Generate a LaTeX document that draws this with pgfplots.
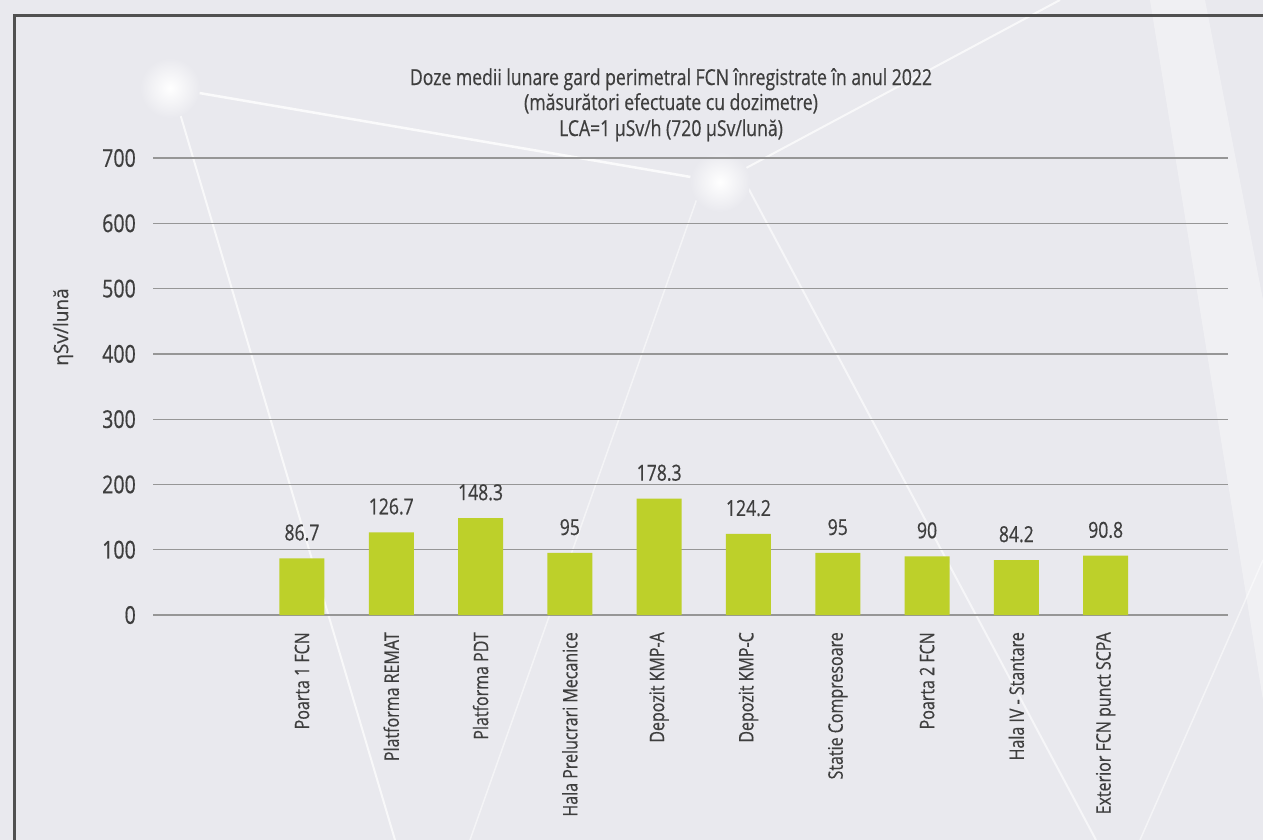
\documentclass[border=0pt]{standalone}
\usepackage{pgfplots}
\pgfplotsset{compat=1.18}
\usepackage{fontspec}
\setmainfont{Open Sans}[FakeStretch=0.8, FakeBold=0.5]
\newfontfamily\ylabfont{Open Sans}[FakeStretch=0.95, FakeBold=0.4]
\definecolor{bgcol}{RGB}{233,233,238}
\definecolor{barcol}{RGB}{189,208,42}
\definecolor{txtcol}{RGB}{62,62,62}
\definecolor{gridcol}{RGB}{150,150,150}
\definecolor{framecol}{RGB}{80,80,80}
\newcommand{\fs}[1]{\fontsize{#1bp}{#1bp}\selectfont}
\begin{document}
\begin{tikzpicture}[x=1bp,y=-1bp]
\path[use as bounding box, fill=bgcol] (0,0) rectangle (1263,840);
\begin{scope}
\clip (0,0) rectangle (1263,840);
% decorative light streaks
\fill[white, opacity=0.35] (1150,0) -- (1205,0) -- (1263,300) -- (1263,700) -- cycle;
\draw[white, line width=2.5bp, opacity=0.8] (170,88) -- (720,182);
\draw[white, line width=2bp, opacity=0.7] (176,100) -- (395,840);
\draw[white, line width=2bp, opacity=0.7] (720,182) -- (1060,0);
\draw[white, line width=2bp, opacity=0.6] (745,182) -- (1096,840);
\draw[white, line width=1.5bp, opacity=0.5] (700,190) -- (470,840);
\draw[white, line width=1.5bp, opacity=0.5] (1263,560) -- (1140,840);
\shade[inner color=white, outer color=bgcol] (170,88) circle (30);
\shade[inner color=white, outer color=bgcol] (720,182) circle (30);
\end{scope}
% frame
\draw[framecol, line width=3bp] (14,840) -- (14,15) -- (1263,15);
% title
\node[anchor=base, text=txtcol, inner sep=0pt, font=\fs{22}] at (671,85) {Doze medii lunare gard perimetral FCN înregistrate în anul 2022};
\node[anchor=base, text=txtcol, inner sep=0pt, font=\fs{22}] at (671,110) {(măsurători efectuate cu dozimetre)};
\node[anchor=base, text=txtcol, inner sep=0pt, font=\fs{22}] at (671,136) {LCA=1 μSv/h (720 μSv/lună)};
% y label
\node[rotate=90, text=txtcol, inner sep=0pt, font={\ylabfont\fs{20}}] at (63,327) {ηSv/lună};
\begin{axis}[
  at={(153bp,-615bp)}, anchor=south west,
  scale only axis, width=1075bp, height=457bp,
  xmin=-1.668, xmax=10.37, ymin=0, ymax=700,
  ytick={0,100,...,700},
  ymajorgrids, grid style={draw=gridcol, line width=1.3bp},
  axis line style={draw=none}, major tick length=0pt, tick style={draw=none},
  /pgf/number format/assume math mode=true,
  xtick={0,...,9},
  xticklabels={Poarta 1 FCN, Platforma REMAT, Platforma PDT, Hala Prelucrari Mecanice, Depozit KMP-A, Depozit KMP-C, Statie Compresoare, Poarta 2 FCN, Hala IV - Stantare, Exterior FCN punct SCPA},
  xticklabel style={rotate=90, anchor=east, inner sep=0pt, font=\fs{20}, text=txtcol},
  xticklabel shift=17bp,
  yticklabel style={anchor=east, inner sep=0pt, font=\fs{24.5}, text=txtcol},
  yticklabel shift=17bp,
  ybar, bar width=45bp,
  nodes near coords,
  every node near coord/.style={anchor=base, yshift=18bp, font=\fs{22}, text=txtcol, inner sep=0pt},
]
\addplot[fill=barcol, draw=none] coordinates {
(0,86.7) (1,126.7) (2,148.3) (3,95) (4,178.3) (5,124.2) (6,95) (7,90) (8,84.2) (9,90.8)};
\end{axis}
\end{tikzpicture}
\end{document}
